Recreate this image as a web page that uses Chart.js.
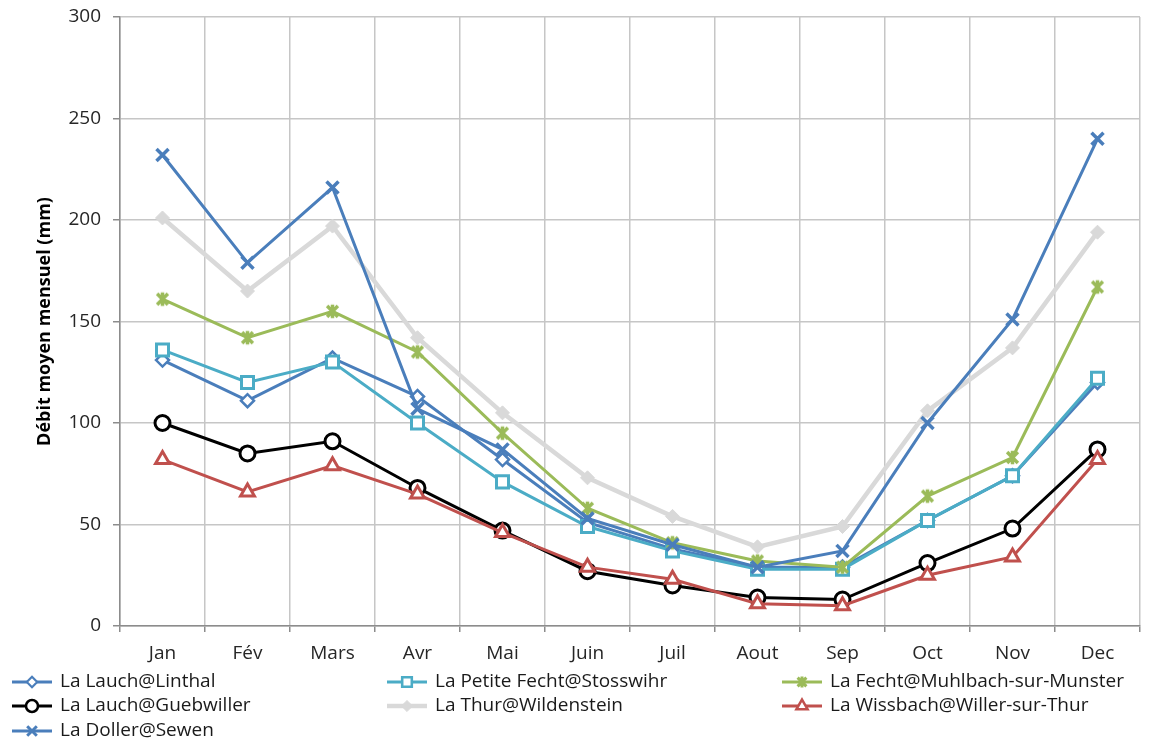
<!DOCTYPE html>
<html>
<head>
<meta charset="utf-8">
<script src="https://cdn.jsdelivr.net/npm/chart.js@4/dist/chart.umd.min.js"></script>
<style>
  html, body { margin: 0; padding: 0; background: #ffffff; }
  #wrap { width: 1157px; height: 744px; position: relative; }
</style>
</head>
<body>
<div id="wrap"><canvas id="c" width="1157" height="744"></canvas></div>
<script>
// Monthly mean discharge (mm) per gauging station
const months = ['Jan', 'Fév', 'Mars', 'Avr', 'Mai', 'Juin', 'Juil', 'Aout', 'Sep', 'Oct', 'Nov', 'Dec'];
const yTicks = [0, 50, 100, 150, 200, 250, 300];

const lauchLinthal     = [131, 111, 132, 113, 82, 51, 38, 29, 29, 52, 74, 120];
const petiteFecht      = [136, 120, 130, 100, 71, 49, 37, 28, 28, 52, 74, 122];
const fechtMuhlbach    = [161, 142, 155, 135, 95, 58, 41, 32, 29, 64, 83, 167];
const lauchGuebwiller  = [100, 85, 91, 68, 47, 27, 20, 14, 13, 31, 48, 87];
const thurWildenstein  = [201, 165, 197, 142, 105, 73, 54, 39, 49, 106, 137, 194];
const wissbachWiller   = [82, 66, 79, 65, 46, 29, 23, 11, 10, 25, 34, 82];
const dollerSewen      = [232, 179, 216, 107, 87, 53, 40, 29, 37, 100, 151, 240];

const FONT = "'Open Sans', sans-serif";

// Asterisk-style marker: an X crossed by a vertical bar
function starMarker(color, size, lw) {
  const cv = document.createElement('canvas');
  cv.width = size; cv.height = size;
  const g = cv.getContext('2d');
  const c = size / 2, r = size / 2 - lw / 2;
  g.strokeStyle = color;
  g.lineWidth = lw;
  g.lineCap = 'butt';
  g.beginPath();
  g.moveTo(c - r * 0.8, c - r * 0.8); g.lineTo(c + r * 0.8, c + r * 0.8);
  g.moveTo(c + r * 0.8, c - r * 0.8); g.lineTo(c - r * 0.8, c + r * 0.8);
  g.moveTo(c, c - r); g.lineTo(c, c + r);
  g.stroke();
  return cv;
}

const greenStar = starMarker('#9bbb59', 17, 3.5);
const greenStarSmall = starMarker('#9bbb59', 14, 3);

const series = [
  { label: 'La Lauch@Linthal', data: lauchLinthal, color: '#4a7ebb', style: 'rectRot', radius: 6.5, fill: '#ffffff', bw: 2.5, lw: 3 },
  { label: 'La Petite Fecht@Stosswihr', data: petiteFecht, color: '#4bacc6', style: 'rect', radius: 8.5, fill: '#ffffff', bw: 3, lw: 3 },
  { label: 'La Fecht@Muhlbach-sur-Munster', data: fechtMuhlbach, color: '#9bbb59', style: greenStar, legendStyle: greenStarSmall, radius: 8, fill: '#9bbb59', bw: 3, lw: 3 },
  { label: 'La Lauch@Guebwiller', data: lauchGuebwiller, color: '#000000', style: 'circle', radius: 7.5, fill: '#ffffff', bw: 3, lw: 3 },
  { label: 'La Thur@Wildenstein', data: thurWildenstein, color: '#d9d9d9', style: 'rectRot', radius: 7, fill: '#d9d9d9', bw: 1, lw: 4.5 },
  { label: 'La Wissbach@Willer-sur-Thur', data: wissbachWiller, color: '#c0504d', style: 'triangle', radius: 8, fill: '#ffffff', bw: 3, lw: 3 },
  { label: 'La Doller@Sewen', data: dollerSewen, color: '#4a7ebb', style: 'crossRot', radius: 8.5, fill: '#4a7ebb', bw: 3.5, lw: 3 }
];

const datasets = series.map((s, i) => ({
  label: s.label,
  data: s.data,
  borderColor: s.color,
  backgroundColor: s.fill,
  borderWidth: s.lw,
  pointStyle: s.style,
  pointRadius: s.radius,
  pointHoverRadius: s.radius,
  pointBorderWidth: s.bw,
  pointBorderColor: s.color,
  pointBackgroundColor: s.fill,
  tension: 0,
  order: 10 - i
}));

// Three-column legend under the plot, drawn on the chart canvas
const legendCols = [12, 387, 782];
const legendRows = [682, 706, 731];
const bottomLegend = {
  id: 'bottomLegend',
  afterDraw(chart) {
    const ctx = chart.ctx;
    ctx.save();
    series.forEach((s, i) => {
      const x = legendCols[i % 3];
      const y = legendRows[Math.floor(i / 3)];
      ctx.strokeStyle = s.color;
      ctx.lineWidth = s.lw;
      ctx.beginPath();
      ctx.moveTo(x, y);
      ctx.lineTo(x + 40, y);
      ctx.stroke();
      ctx.fillStyle = s.fill;
      ctx.strokeStyle = s.color;
      ctx.lineWidth = s.bw * 0.85;
      Chart.helpers.drawPoint(ctx, { pointStyle: s.legendStyle || s.style, radius: s.radius * 0.8, borderWidth: s.bw * 0.85, rotation: 0 }, x + 20, y);
      ctx.fillStyle = '#1a1a1a';
      ctx.font = '19px ' + FONT;
      ctx.textBaseline = 'middle';
      ctx.textAlign = 'left';
      ctx.fillText(s.label, x + 48, y);
    });
    ctx.restore();
  }
};

new Chart(document.getElementById('c'), {
  type: 'line',
  data: { labels: months, datasets },
  plugins: [bottomLegend],
  options: {
    responsive: false,
    animation: false,
    layout: { padding: { left: 0, right: 17, top: 17, bottom: 0 } },
    plugins: {
      legend: { display: false },
      tooltip: { enabled: false }
    },
    scales: {
      x: {
        offset: true,
        grid: { offset: true, color: '#c6c6c6', lineWidth: 1.5, tickLength: 6, tickColor: '#8c8c8c' },
        border: { color: '#8c8c8c', width: 1.5 },
        ticks: { color: '#262626', font: { family: FONT, size: 19 }, padding: 10, maxRotation: 0 },
        afterFit(scale) {
          scale.height = 118;
          scale.paddingLeft = 0;
          scale.paddingRight = 0;
        }
      },
      y: {
        min: 0,
        max: 300,
        afterBuildTicks(scale) { scale.ticks = yTicks.map(v => ({ value: v })); },
        grid: { color: '#c6c6c6', lineWidth: 1.5, tickLength: 7, tickColor: '#8c8c8c' },
        border: { color: '#8c8c8c', width: 1.5 },
        ticks: { color: '#262626', font: { family: FONT, size: 19 }, padding: 12 },
        title: {
          display: true,
          text: 'Débit moyen mensuel (mm)',
          color: '#000000',
          font: { family: FONT, size: 18, weight: 'bold' },
          padding: { top: 34, bottom: 0 }
        },
        afterFit(scale) {
          scale.width = 120;
          scale.paddingTop = 0;
          scale.paddingBottom = 0;
        }
      }
    }
  }
});
</script>
</body>
</html>
